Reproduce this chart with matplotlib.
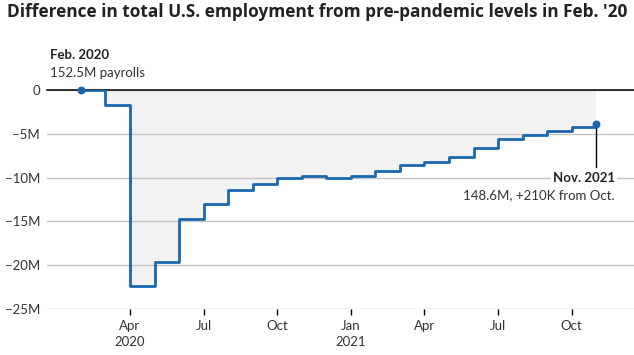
import matplotlib
matplotlib.use("Agg")
import matplotlib.pyplot as plt

plt.rcParams['font.family'] = ['Lato', 'DejaVu Sans']

# month index: 0 = Jan 2020
month_idx = list(range(1, 23))
months = ["Feb 2020", "Mar 2020", "Apr 2020", "May 2020", "Jun 2020", "Jul 2020",
          "Aug 2020", "Sep 2020", "Oct 2020", "Nov 2020", "Dec 2020", "Jan 2021",
          "Feb 2021", "Mar 2021", "Apr 2021", "May 2021", "Jun 2021", "Jul 2021",
          "Aug 2021", "Sep 2021", "Oct 2021", "Nov 2021"]
# difference from Feb 2020 payrolls, millions
jobs_diff = [0, -1.7, -22.4, -19.6, -14.7, -13.0, -11.4, -10.7, -10.0, -9.8,
             -10.05, -9.85, -9.25, -8.5, -8.2, -7.65, -6.6, -5.55, -5.1, -4.7,
             -4.15, -3.9]

y_ticks = [0, -5, -10, -15, -20, -25]
y_labels = ["0", "\u22125M", "\u221210M", "\u221215M", "\u221220M", "\u221225M"]
x_ticks = [3, 6, 9, 12, 15, 18, 21]
x_labels = ["Apr\n2020", "Jul", "Oct", "Jan\n2021", "Apr", "Jul", "Oct"]

blue = "#1a67b0"
text_col = "#333333"

fig = plt.figure(figsize=(6.34, 3.55), dpi=100)
ax = fig.add_axes([0.0741, 0.1287, 0.9259, 0.6169])

ax.fill_between(month_idx, jobs_diff, 0, step="post", color="#f2f2f2", lw=0, zorder=1)
ax.step(month_idx, jobs_diff, where="post", color=blue, lw=2.0, zorder=3)
ax.scatter([month_idx[0], month_idx[-1]], [jobs_diff[0], jobs_diff[-1]],
           s=22, color=blue, zorder=4, clip_on=False)

ax.set_xlim(-0.383, 23.54)
ax.set_ylim(-25.05, 0)
ax.set_yticks(y_ticks)
ax.set_yticklabels(y_labels)
ax.set_xticks(x_ticks)
ax.set_xticklabels(x_labels, linespacing=1.35)

ax.grid(axis="y", color="#c4c4c4", lw=1, zorder=0)
ax.axhline(0, color="black", lw=1.1, zorder=2, clip_on=False)
for s in ax.spines.values():
    s.set_visible(False)
ax.tick_params(axis="y", length=0, pad=5, labelsize=9.5, labelcolor=text_col)
ax.tick_params(axis="x", length=4, width=1, color="black", pad=4,
               labelsize=9.5, labelcolor=text_col)

# annotations
ax.text(-0.28, 4.05, "Feb. 2020", fontsize=9.5, fontweight="bold", color="#222222",
        ha="left", va="center", clip_on=False)
ax.text(-0.28, 2.0, "152.5M payrolls", fontsize=9.5, color=text_col,
        ha="left", va="center", clip_on=False)

ax.plot([22, 22], [jobs_diff[-1], -8.75], color="black", lw=1, zorder=3)
ax.text(22.76, -10.0, "Nov. 2021", fontsize=9.5, fontweight="bold", color="#222222",
        ha="right", va="center", zorder=5,
        bbox=dict(facecolor="white", edgecolor="none", pad=1.5))
ax.text(22.76, -11.95, "148.6M, +210K from Oct.", fontsize=9.5, color=text_col,
        ha="right", va="center", zorder=5)

fig.text(0.011, 0.966, "Difference in total U.S. employment from pre-pandemic levels in Feb. '20",
         fontsize=12.4, fontweight="bold", color="#222222", ha="left", va="center",
         family=["Open Sans", "DejaVu Sans"])

fig.savefig("out.png", dpi=100)
